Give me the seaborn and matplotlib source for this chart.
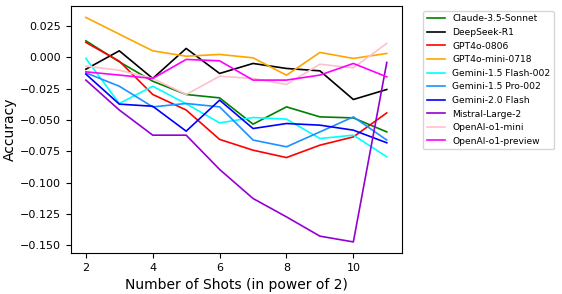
import matplotlib
matplotlib.use("Agg")
import matplotlib.pyplot as plt
import seaborn as sns
import pandas as pd

shots = [2, 3, 4, 5, 6, 7, 8, 9, 10, 11]

models = ["Claude-3.5-Sonnet", "DeepSeek-R1", "GPT4o-0806", "GPT4o-mini-0718",
          "Gemini-1.5 Flash-002", "Gemini-1.5 Pro-002", "Gemini-2.0 Flash",
          "Mistral-Large-2", "OpenAI-o1-mini", "OpenAI-o1-preview"]

claude = [0.0133, -0.0035, -0.0190, -0.0296, -0.0323, -0.0533, -0.0395, -0.0475, -0.0483, -0.0595]
deepseek = [-0.0094, 0.0053, -0.0168, 0.0072, -0.0128, -0.0048, -0.0088, -0.0107, -0.0336, -0.0256]
gpt4o = [0.0120, -0.0030, -0.0296, -0.0420, -0.0655, -0.0741, -0.0800, -0.0701, -0.0635, -0.0443]
gpt4o_mini = [0.0320, 0.0186, 0.0053, 0.0010, 0.0024, -0.0003, -0.0142, 0.0040, -0.0008, 0.0032]
gem15_flash = [-0.0008, -0.0368, -0.0230, -0.0370, -0.0523, -0.0480, -0.0493, -0.0648, -0.0621, -0.0794]
gem15_pro = [-0.0123, -0.0230, -0.0395, -0.0368, -0.0395, -0.0660, -0.0714, -0.0595, -0.0475, -0.0660]
gem20_flash = [-0.0133, -0.0373, -0.0390, -0.0589, -0.0341, -0.0568, -0.0528, -0.0541, -0.0581, -0.0682]
mistral = [-0.0181, -0.0420, -0.0621, -0.0621, -0.0895, -0.1127, -0.1274, -0.1428, -0.1474, -0.0040]
o1_mini = [-0.0070, -0.0102, -0.0168, -0.0296, -0.0150, -0.0168, -0.0216, -0.0054, -0.0083, 0.0112]
o1_preview = [-0.0115, -0.0141, -0.0168, -0.0016, -0.0027, -0.0181, -0.0181, -0.0141, -0.0048, -0.0155]

series = [claude, deepseek, gpt4o, gpt4o_mini, gem15_flash, gem15_pro,
          gem20_flash, mistral, o1_mini, o1_preview]

colors = ["green", "black", "red", "orange", "cyan", "dodgerblue", "blue",
          "darkviolet", "pink", "magenta"]

rows = []
for m, vals in zip(models, series):
    for s, v in zip(shots, vals):
        rows.append({"Shots": s, "Accuracy": v, "Model": m})
df = pd.DataFrame(rows)

plt.rcParams['font.family'] = ['DejaVu Sans']
fig = plt.figure(figsize=(5.62, 2.94), dpi=100)
ax = fig.add_axes([0.126, 0.139, 0.589, 0.84])

sns.lineplot(data=df, x="Shots", y="Accuracy", hue="Model", hue_order=models,
             palette=dict(zip(models, colors)), linewidth=1.2, ax=ax)

ax.set_xlabel("Number of Shots (in power of 2)", fontsize=10)
ax.set_ylabel("Accuracy", fontsize=10, labelpad=2)
ax.tick_params(labelsize=8)
ax.set_xticks([2, 4, 6, 8, 10])
ax.legend(bbox_to_anchor=(1.05, 1), loc="upper left", fontsize=6.6)

fig.savefig("out.png", dpi=100)
